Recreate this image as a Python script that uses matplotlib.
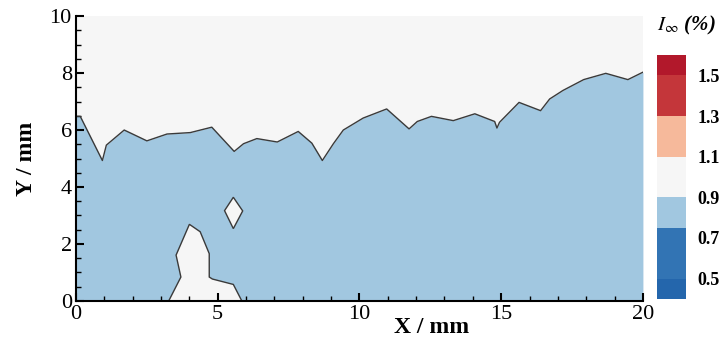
import numpy as np
import matplotlib
matplotlib.use("Agg")
import matplotlib.pyplot as plt
from matplotlib.colors import ListedColormap, BoundaryNorm
from matplotlib.cm import ScalarMappable

plt.rcParams['font.family'] = ['Liberation Serif', 'DejaVu Serif']
plt.rcParams['mathtext.fontset'] = 'stix'

# contour levels / colours of I_inf (%)
levels = [0.4, 0.5, 0.75, 0.9, 1.1, 1.3, 1.5, 1.6]
level_colors = ['#2466ac', '#3274b4', '#a1c7e0', '#f6f6f6', '#f6b99b', '#c4363a', '#b2182b']
cbar_ticks = [0.5, 0.7, 0.9, 1.1, 1.3, 1.5]

# boundary between the 0.75-0.9 band (below) and 0.9-1.1 band (above)
edge_x = [0, 0.15, 0.93, 1.07, 1.70, 2.50, 3.21, 4.03, 4.79, 5.58, 5.91, 6.38, 7.10,
          7.84, 8.32, 8.69, 9.08, 9.43, 10.13, 10.96, 11.75, 12.04, 12.54, 13.31, 14.07,
          14.77, 14.85, 14.94, 15.63, 16.39, 16.71, 17.18, 17.91, 18.69, 19.47, 20.0]
edge_y = [6.48, 6.48, 4.93, 5.47, 6.0, 5.62, 5.86, 5.91, 6.1, 5.25, 5.52, 5.7, 5.58,
          5.95, 5.54, 4.93, 5.52, 6.0, 6.42, 6.74, 6.04, 6.3, 6.48, 6.33, 6.57,
          6.3, 6.07, 6.27, 6.97, 6.68, 7.09, 7.39, 7.77, 7.99, 7.77, 8.03]

# islands of the 0.9-1.1 band inside the blue region
island_x = [3.27, 3.70, 3.53, 4.00, 4.38, 4.70, 4.70, 4.81, 5.55, 5.85]
island_y = [0.0, 0.84, 1.61, 2.69, 2.43, 1.66, 0.84, 0.77, 0.58, 0.0]
diamond_x = [5.55, 5.88, 5.55, 5.24]
diamond_y = [3.64, 3.16, 2.54, 3.17]

cmap = ListedColormap(level_colors)
norm = BoundaryNorm(levels, cmap.N)
low_col = cmap(norm(0.8))
high_col = cmap(norm(1.0))

fig = plt.figure(figsize=(7.24, 3.42), dpi=100)
ax = fig.add_axes([0.105, 0.12, 0.783, 0.833])
ax.set_facecolor(high_col)

ax.fill_between(edge_x, 0, edge_y, color=low_col, lw=0)
ax.plot(edge_x, edge_y, color='#3a3a3a', lw=1.0)
ax.fill(island_x, island_y, facecolor=high_col, edgecolor='#3a3a3a', lw=1.0)
ax.fill(diamond_x, diamond_y, facecolor=high_col, edgecolor='#3a3a3a', lw=1.0)

ax.set_xlim(0, 20)
ax.set_ylim(0, 10)
ax.set_xticks([0, 5, 10, 15, 20])
ax.set_yticks([0, 2, 4, 6, 8, 10])
ax.set_xticks(np.arange(0, 21, 1), minor=True)
ax.set_yticks(np.arange(0, 10.1, 0.5), minor=True)
for s in ['top', 'right']:
    ax.spines[s].set_visible(False)
for s in ['left', 'bottom']:
    ax.spines[s].set_linewidth(1.5)
ax.tick_params(which='major', direction='in', length=6, width=1.5, labelsize=16, pad=3)
ax.tick_params(which='minor', direction='in', length=3.5, width=1)
ax.set_xlabel('X / mm', fontsize=17, fontweight='bold')
ax.xaxis.set_label_coords(0.628, -0.055)
ax.set_ylabel('Y / mm', fontsize=17, fontweight='bold', labelpad=9)

cax = fig.add_axes([0.907, 0.126, 0.041, 0.713])
sm = ScalarMappable(norm=norm, cmap=cmap)
cb = fig.colorbar(sm, cax=cax, spacing='proportional', ticks=cbar_ticks)
cb.minorticks_off()
cb.outline.set_visible(False)
cb.ax.tick_params(length=0, labelsize=13, pad=8)
cb.ax.set_yticklabels(['%.1f' % v for v in cbar_ticks], fontweight='bold')
fig.text(0.908, 0.925, r'$I_{\infty}$ (%)', fontsize=15, fontweight='bold',
         fontstyle='italic', ha='left', va='center')

fig.savefig('out.png', dpi=100)
